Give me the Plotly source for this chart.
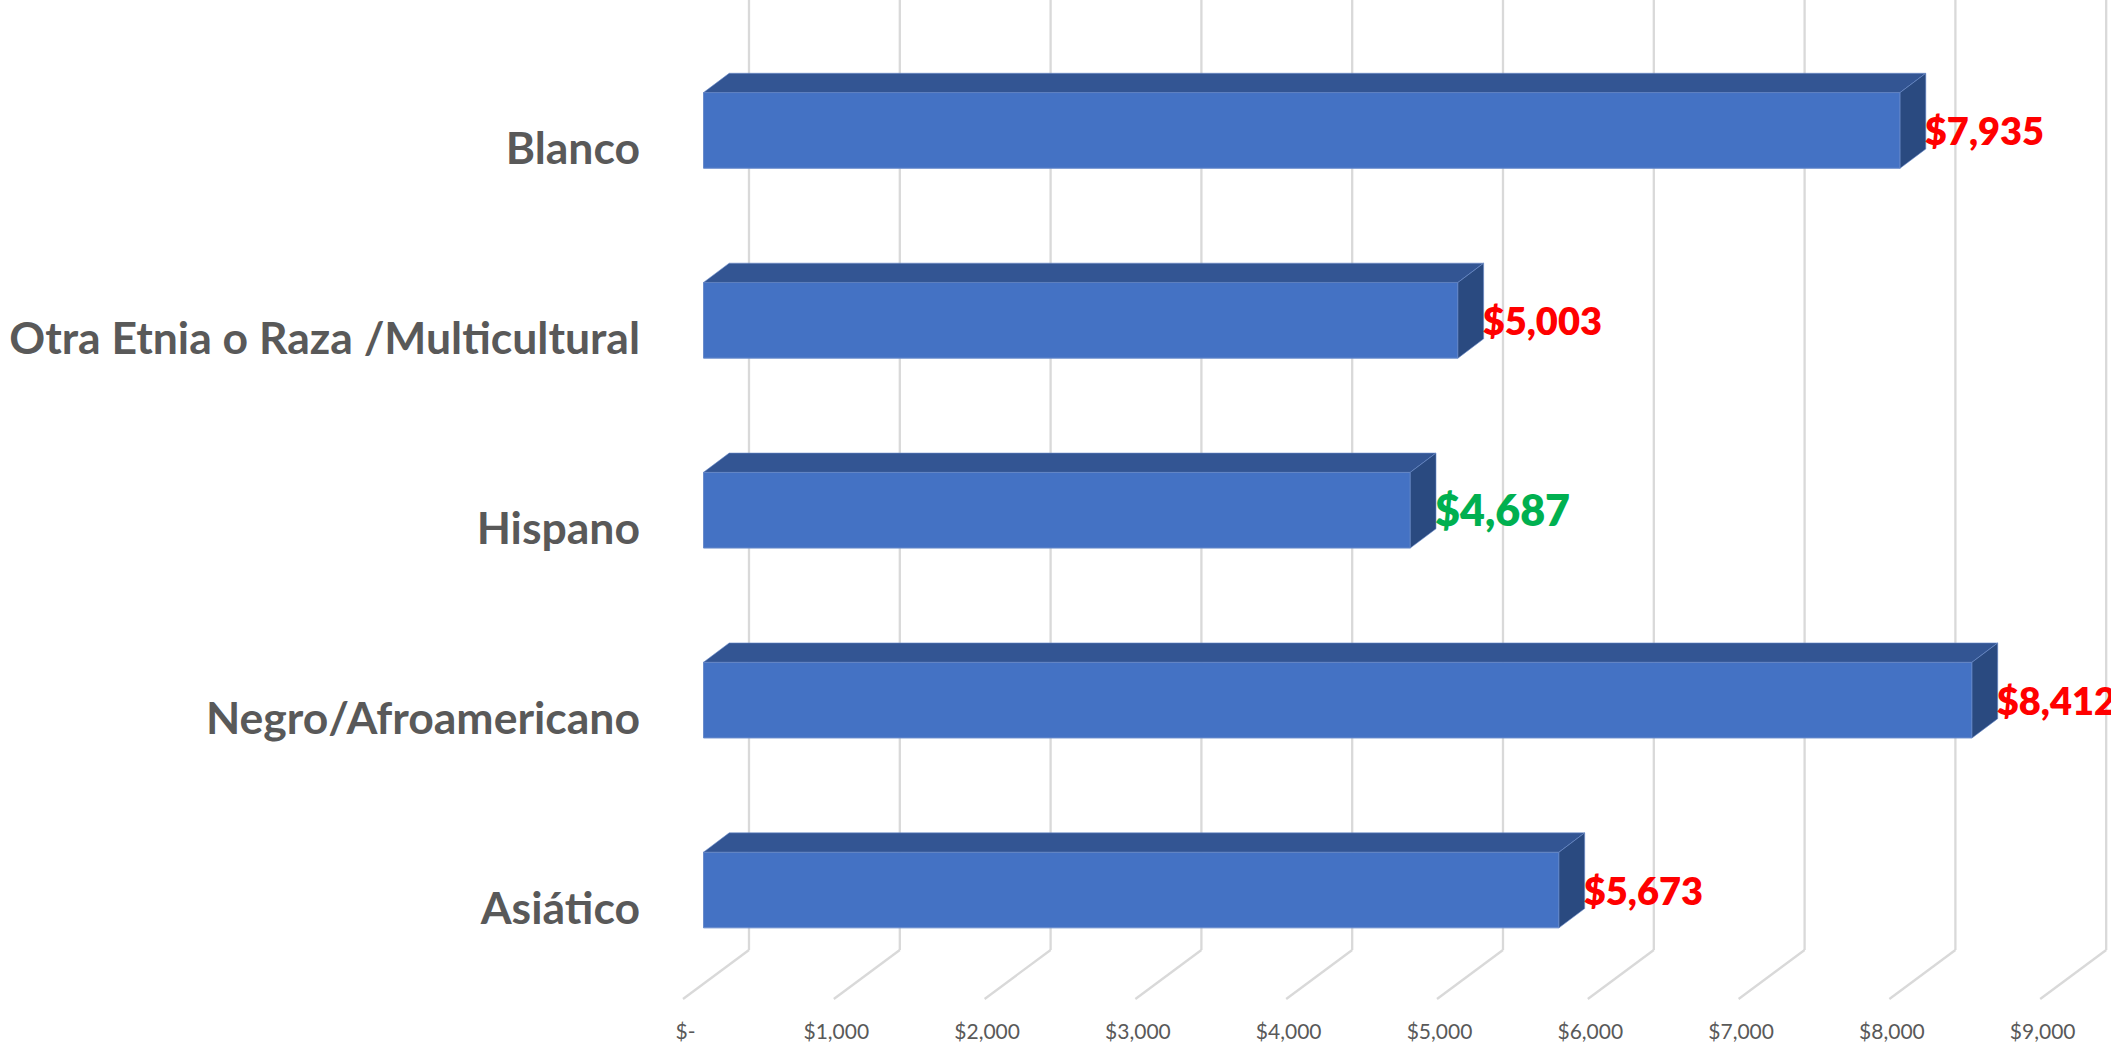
import plotly.graph_objects as go

# Data (bottom to top)
categories = ["Asiático", "Negro/Afroamericano", "Hispano", "Otra Etnia o Raza /Multicultural", "Blanco"]
values = [5673, 8412, 4687, 5003, 7935]
value_labels = ["$5,673", "$8,412", "$4,687", "$5,003", "$7,935"]
label_colors = ["#FF0000", "#FF0000", "#00B050", "#FF0000", "#FF0000"]
label_sizes = [38, 38, 43, 38, 38]
tick_values = [0, 1000, 2000, 3000, 4000, 5000, 6000, 7000, 8000, 9000]
tick_labels = ["$-", "$1,000", "$2,000", "$3,000", "$4,000", "$5,000", "$6,000", "$7,000", "$8,000", "$9,000"]

# Page geometry of the fake-3D Excel look
W, H = 2111, 1045
BOTTOM = 28
PX_PER_UNIT = 150.8 / 1000
X0_PX = 703.5
Y0_PX = 890
STEP_PX = 189.9
BAR_H = 75.7 / STEP_PX

def ux(px):
    return px / PX_PER_UNIT

def uy(px):
    return px / STEP_PX

xrange_ = [ux(-X0_PX), ux(W - X0_PX)]
yrange_ = [uy(Y0_PX - (H - BOTTOM)), uy(Y0_PX)]
ypos = list(range(len(categories)))

depth_x, depth_y = ux(25.7), uy(19.3)
FRONT = "#4472C4"
TOP = "#335593"
SIDE = "#2A4A80"
EDGE = "#6A8CCB"

fig = go.Figure()
fig.add_trace(go.Bar(y=ypos, x=values, orientation="h", width=BAR_H,
                     marker=dict(color=FRONT, line=dict(color=EDGE, width=1)),
                     hoverinfo="skip", showlegend=False))

for i, v in zip(ypos, values):
    top = i + BAR_H / 2
    bot = i - BAR_H / 2
    fig.add_trace(go.Scatter(
        x=[0, v, v + depth_x, depth_x, 0],
        y=[top, top, top + depth_y, top + depth_y, top],
        mode="lines", fill="toself", fillcolor=TOP,
        line=dict(color=EDGE, width=0.6), hoverinfo="skip", showlegend=False))
    fig.add_trace(go.Scatter(
        x=[v, v + depth_x, v + depth_x, v, v],
        y=[top, top + depth_y, bot + depth_y, bot, top],
        mode="lines", fill="toself", fillcolor=SIDE,
        line=dict(color=EDGE, width=0.6), hoverinfo="skip", showlegend=False))

fig.add_trace(go.Scatter(
    x=[v + depth_x - ux(1) for v in values], y=[i - uy(5.5) for i in ypos],
    mode="text", text=value_labels, textposition="middle right",
    textfont=dict(family="Lato", color=label_colors, size=label_sizes, weight=800),
    cliponaxis=False, hoverinfo="skip", showlegend=False))

# Wall and floor gridlines
back_dx = ux(45.5)
front_dx = ux(-20.5)
floor_back_y = uy(Y0_PX - 950)
floor_front_y = uy(Y0_PX - 999)
shapes = []
for t in tick_values:
    common = dict(type="line", xref="x", yref="y", layer="below",
                  line=dict(color="#D9D9D9", width=2.3))
    shapes.append(dict(x0=t + back_dx, x1=t + back_dx, y0=floor_back_y, y1=yrange_[1], **common))
    shapes.append(dict(x0=t + back_dx, x1=t + front_dx, y0=floor_back_y, y1=floor_front_y, **common))

fig.update_layout(
    width=W, height=H,
    margin=dict(l=0, r=0, t=0, b=BOTTOM, pad=0),
    paper_bgcolor="white", plot_bgcolor="white",
    barmode="overlay", showlegend=False, shapes=shapes,
    xaxis=dict(range=xrange_, tickmode="array", tickvals=tick_values, ticktext=tick_labels,
               showgrid=False, zeroline=False, showline=False, ticks="",
               tickfont=dict(family="Lato", size=21, color="#595959"),
               ticklabelshift=-18),
    yaxis=dict(range=yrange_, tickmode="array", tickvals=ypos, ticktext=categories,
               showgrid=False, zeroline=False, showline=False, ticks="",
               anchor="free", position=640 / W, ticklabelshift=18,
               tickfont=dict(family="Lato", size=44.5, color="#595959", weight="bold")),
)

fig.write_html("out.html", config={"displayModeBar": False},
               post_script="document.body.style.margin='0';document.body.style.overflow='hidden';"
                           "document.body.style.fontVariantLigatures='none';")
